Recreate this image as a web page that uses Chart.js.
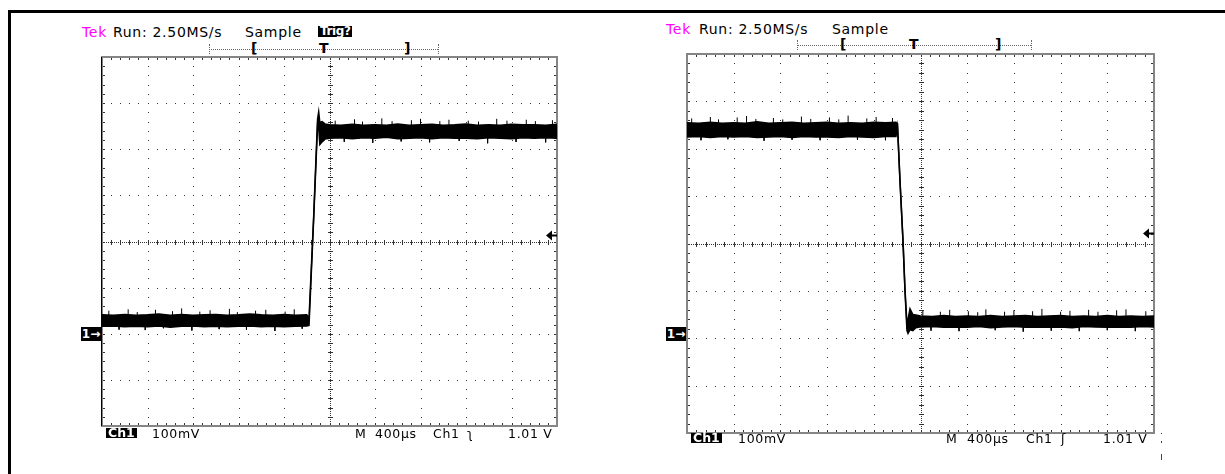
<!DOCTYPE html>
<html>
<head>
<meta charset="utf-8">
<script src="https://cdn.jsdelivr.net/npm/chart.js"></script>
<style>
  html, body { margin: 0; padding: 0; background: #fff; }
  body { width: 1225px; height: 474px; position: relative; overflow: hidden; }
  .frame { position: absolute; left: 8px; top: 10px; width: 1300px; height: 600px;
           border-left: 3px solid #000; border-top: 3px solid #000; }
  canvas { position: absolute; }
  .t { position: absolute; font-family: "DejaVu Sans", sans-serif; white-space: nowrap; line-height: 1; color: #000; }
  .hdr { font-size: 14px; letter-spacing: 0.7px; }
  .ftr { font-size: 12.5px; letter-spacing: 0.7px; }
  .tek { color: #ff00ff; }
  .box { background: #000; color: #fff; font-weight: bold; }
  .bar { position: absolute; border-top: 1px dotted #666; height: 0; }
  .cap { position: absolute; border-left: 1px dotted #666; width: 0; height: 10px; }
  .mark { position: absolute; font-family: "DejaVu Sans", sans-serif; font-weight: bold; font-size: 14px; line-height: 1; }
  .gnd { position: absolute; background: #000; color: #fff; font-family: "DejaVu Sans", sans-serif;
         font-weight: bold; font-size: 12px; line-height: 14px; height: 14px; width: 20px; text-align: center; }
  .speck { position: absolute; background: #444; width: 1px; }
</style>
</head>
<body>
<div class="frame"></div>

<!-- left scope -->
<div class="t hdr tek" style="left:82px; top:25px;">Tek</div>
<div class="t hdr" style="left:113px; top:25px;">Run: 2.50MS/s</div>
<div class="t hdr" style="left:245px; top:25px;">Sample</div>
<div class="t box" style="left:318px; top:26px; height:11px; font-size:12px; line-height:11px; padding:0 2px; letter-spacing:-0.4px;">Trig?</div>
<div class="bar" style="left:209px; top:49px; width:229px;"></div>
<div class="cap" style="left:209px; top:44px;"></div>
<div class="cap" style="left:438px; top:44px;"></div>
<div class="mark" style="left:251px; top:41px;">[</div>
<div class="mark" style="left:319px; top:41px;">T</div>
<div class="mark" style="left:404px; top:41px;">]</div>
<div class="gnd" style="left:81px; top:327px;">1→</div>
<canvas id="leftScope" width="475" height="389" style="left:92px; top:47px;"></canvas>
<div class="t ftr box" style="left:106px; top:428px; height:10px; line-height:10px; padding:0 2px; letter-spacing:0;">Ch1</div>
<div class="t ftr" style="left:152px; top:428px;">100mV</div>
<div class="t ftr" style="left:355px; top:428px;">M</div>
<div class="t ftr" style="left:375px; top:428px;">400µs</div>
<div class="t ftr" style="left:433px; top:428px;">Ch1</div>
<div class="t ftr" style="left:467px; top:428px;">ʅ</div>
<div class="t ftr" style="left:508px; top:428px;">1.01 V</div>

<!-- right scope -->
<div class="t hdr tek" style="left:666px; top:22px;">Tek</div>
<div class="t hdr" style="left:699px; top:22px;">Run: 2.50MS/s</div>
<div class="t hdr" style="left:832px; top:22px;">Sample</div>
<div class="bar" style="left:797px; top:45px; width:234px;"></div>
<div class="cap" style="left:797px; top:40px;"></div>
<div class="cap" style="left:1031px; top:40px;"></div>
<div class="mark" style="left:840px; top:37px;">[</div>
<div class="mark" style="left:909px; top:37px;">T</div>
<div class="mark" style="left:995px; top:37px;">]</div>
<div class="gnd" style="left:666px; top:327px;">1→</div>
<canvas id="rightScope" width="487" height="399" style="left:677px; top:44px;"></canvas>
<div class="t ftr box" style="left:691px; top:433px; height:10px; line-height:10px; padding:0 2px; letter-spacing:0;">Ch1</div>
<div class="t ftr" style="left:738px; top:433px;">100mV</div>
<div class="t ftr" style="left:946px; top:433px;">M</div>
<div class="t ftr" style="left:967px; top:433px;">400µs</div>
<div class="t ftr" style="left:1026px; top:433px;">Ch1</div>
<div class="t ftr" style="left:1061px; top:433px;">ʃ</div>
<div class="t ftr" style="left:1103px; top:433px;">1.01 V</div>
<div class="speck" style="left:1161px; top:433px; height:1px;"></div>
<div class="speck" style="left:1161px; top:441px; height:2px;"></div>
<div class="speck" style="left:1161px; top:454px; height:6px;"></div>

<script>
// Graticule: 10 x 400us, 8 x 100mV (0 mV = channel 1 ground marker)
var timeDivs = [0, 400, 800, 1200, 1600, 2000, 2400, 2800, 3200, 3600, 4000];
var voltDivs = [-200, -100, 0, 100, 200, 300, 400, 500, 600];

// Left capture: rising step, band envelope in mV
var leftTime = [0, 100, 200, 300, 400, 500, 600, 700, 800, 900, 1000, 1100, 1200, 1300, 1400, 1500, 1600, 1700, 1800,
                1820, 1860, 1895, 1905, 1915, 1935, 1960,
                2000, 2100, 2200, 2300, 2400, 2500, 2600, 2700, 2800, 2900, 3000, 3100, 3200, 3300, 3400, 3500, 3600, 3700, 3800, 3900, 4000];
var leftUpper = [41, 40, 42, 40, 41, 43, 40, 42, 40, 41, 42, 40, 41, 43, 41, 40, 42, 40, 41,
                 34, 250, 465, 481, 458, 460, 455,
                 453, 452, 454, 452, 453, 452, 455, 452, 453, 454, 452, 453, 455, 452, 453, 452, 454, 453, 453, 452, 454];
var leftLower = [16, 17, 15, 16, 15, 17, 14, 16, 17, 15, 16, 15, 16, 17, 15, 16, 15, 16, 17,
                 18, 244, 452, 446, 410, 416, 422,
                 424, 425, 423, 425, 424, 426, 423, 424, 425, 423, 425, 424, 424, 423, 425, 424, 423, 425, 424, 425, 424];
var leftLowSpikeTime = [60, 150, 230, 310, 380, 470, 540, 620, 700, 790, 860, 950, 1030, 1120, 1190, 1270, 1350, 1440, 1520, 1610, 1690, 1760];
var leftLowSpikeTip = [50, 9, 53, 47, 8, 52, 12, 49, 55, 7, 48, 51, 10, 54, 47, 9, 50, 52, 6, 48, 53, 11];
var leftHighSpikeTime = [2050, 2130, 2220, 2290, 2380, 2460, 2550, 2630, 2720, 2800, 2880, 2970, 3050, 3140, 3220, 3310, 3390, 3470, 3560, 3640, 3730, 3810, 3900, 3960];
var leftHighSpikeTip = [462, 416, 465, 460, 414, 467, 461, 417, 463, 466, 415, 461, 464, 418, 462, 460, 413, 466, 462, 416, 464, 461, 415, 463];
var leftLevels = [28, 438];
var leftTrigger = 214;

// Right capture: falling step
var rightTime = [0, 100, 200, 300, 400, 500, 600, 700, 800, 900, 1000, 1100, 1200, 1300, 1400, 1500, 1600, 1700,
                 1790, 1803, 1824, 1850, 1867, 1884, 1893, 1910, 1935, 1960,
                 2000, 2100, 2200, 2300, 2400, 2500, 2600, 2700, 2800, 2900, 3000, 3100, 3200, 3300, 3400, 3500, 3600, 3700, 3800, 3900, 4000];
var rightUpper = [455, 454, 456, 454, 455, 454, 457, 454, 455, 456, 454, 455, 456, 454, 455, 454, 456, 455,
                  456, 452, 336, 208, 104, 30, 40, 62, 50, 49,
                  47, 46, 48, 46, 47, 46, 48, 46, 47, 48, 46, 47, 48, 46, 47, 46, 48, 46, 47, 46, 47];
var rightLower = [425, 426, 424, 426, 425, 426, 424, 425, 426, 424, 426, 425, 425, 424, 426, 425, 424, 426,
                  426, 446, 332, 204, 100, 16, 10, 18, 16, 22,
                  24, 25, 23, 24, 23, 25, 22, 24, 25, 23, 24, 23, 24, 22, 25, 24, 23, 24, 23, 25, 24];
var rightHighSpikeTime = [40, 120, 200, 270, 350, 430, 510, 590, 660, 740, 820, 900, 980, 1060, 1140, 1220, 1300, 1380, 1460, 1540, 1620, 1700, 1760];
var rightHighSpikeTip = [464, 418, 467, 462, 420, 466, 469, 463, 417, 465, 462, 419, 468, 463, 418, 466, 462, 470, 419, 464, 467, 418, 465];
var rightLowSpikeTime = [2020, 2090, 2170, 2250, 2330, 2410, 2490, 2560, 2640, 2720, 2800, 2880, 2960, 3040, 3120, 3200, 3280, 3360, 3440, 3520, 3600, 3680, 3760, 3840, 3930];
var rightLowSpikeTip = [58, 16, 56, 60, 15, 57, 55, 61, 17, 56, 59, 14, 57, 62, 16, 56, 58, 15, 60, 56, 17, 59, 61, 15, 57];
var rightLevels = [440, 35];
var rightTrigger = 222;

// dotted graticule, centre cross, edge ticks, frame, trigger arrow
var graticule = {
    id: 'graticule',
    beforeDatasetsDraw: function(chart, args, opts) {
        var ctx = chart.ctx, a = chart.chartArea;
        var sx = chart.scales.x, sy = chart.scales.y;
        var xs = timeDivs.map(function(v) { return sx.getPixelForValue(v); });
        var ys = voltDivs.map(function(v) { return sy.getPixelForValue(v); });
        var xm = [], ym = [], i, k;
        for (i = 0; i < xs.length - 1; i++) for (k = 0; k < 5; k++) xm.push(xs[i] + (xs[i + 1] - xs[i]) * k / 5);
        xm.push(xs[xs.length - 1]);
        for (i = 0; i < ys.length - 1; i++) for (k = 0; k < 5; k++) ym.push(ys[i] + (ys[i + 1] - ys[i]) * k / 5);
        ym.push(ys[ys.length - 1]);
        var R = Math.round;
        ctx.save();
        ctx.fillStyle = '#333';
        xs.slice(1, -1).forEach(function(px) { ym.forEach(function(py) { ctx.fillRect(R(px), R(py), 1, 1); }); });
        ys.slice(1, -1).forEach(function(py) { xm.forEach(function(px) { ctx.fillRect(R(px), R(py), 1, 1); }); });
        var cx = R(xs[5]), cy = R(ys[4]);
        for (var p = a.top; p < a.bottom; p += 2) ctx.fillRect(cx, R(p), 1, 1);
        for (p = a.left; p < a.right; p += 2) ctx.fillRect(R(p), cy, 1, 1);
        ym.forEach(function(py) { ctx.fillRect(cx - 2, R(py), 5, 1); });
        xm.forEach(function(px) { ctx.fillRect(R(px), cy - 2, 1, 5); });
        xm.forEach(function(px) {
            ctx.fillRect(R(px), R(a.top), 1, 3);
            ctx.fillRect(R(px), R(a.bottom) - 3, 1, 3);
        });
        ym.forEach(function(py) {
            ctx.fillRect(R(a.left), R(py), 3, 1);
            ctx.fillRect(R(a.right) - 3, R(py), 3, 1);
        });
        ctx.strokeStyle = '#858585';
        ctx.lineWidth = 2;
        ctx.strokeRect(a.left, a.top, a.right - a.left, a.bottom - a.top);
        if (opts.blackLeft) {
            ctx.fillStyle = '#000';
            ctx.fillRect(R(a.left) - 1, R(a.top), 1, a.bottom - a.top);
        }
        ctx.restore();
    },
    afterDatasetsDraw: function(chart, args, opts) {
        var ctx = chart.ctx, a = chart.chartArea;
        var ty = Math.round(chart.scales.y.getPixelForValue(opts.trigger)) + 0.5;
        ctx.save();
        ctx.fillStyle = '#000';
        ctx.beginPath();
        ctx.moveTo(a.right - 11, ty);
        ctx.lineTo(a.right - 5, ty - 5);
        ctx.lineTo(a.right - 5, ty + 5);
        ctx.closePath();
        ctx.fill();
        ctx.fillRect(a.right - 6, ty - 1, 6, 2);
        ctx.restore();
    }
};

function toPoints(time, values) {
    return time.map(function(t, i) { return {x: t, y: values[i]}; });
}

// each spike is a short vertical stroke from the band level to its tip
function spikePoints(time, tips, level) {
    var pts = [];
    time.forEach(function(t, i) {
        pts.push({x: t, y: level}, {x: t, y: tips[i]}, {x: t, y: null});
    });
    return pts;
}

function makeScope(id, time, upper, lower, spikes, trigger, blackLeft) {
    var ctx = document.getElementById(id).getContext('2d');
    var datasets = [{
        data: toPoints(time, upper),
        borderColor: '#000',
        backgroundColor: '#000',
        borderWidth: 1.5,
        pointRadius: 0,
        tension: 0,
        fill: '+1'
    }, {
        data: toPoints(time, lower),
        borderColor: '#000',
        borderWidth: 1.5,
        pointRadius: 0,
        tension: 0,
        fill: false
    }];
    spikes.forEach(function(s) {
        datasets.push({
            data: spikePoints(s[0], s[1], s[2]),
            borderColor: '#000',
            borderWidth: 1,
            pointRadius: 0,
            spanGaps: false,
            fill: false
        });
    });
    return new Chart(ctx, {
        type: 'line',
        data: { datasets: datasets },
        options: {
            responsive: false,
            animation: false,
            devicePixelRatio: 1,
            layout: { padding: { left: 10, right: 10, top: 10, bottom: 10 } },
            plugins: {
                legend: { display: false },
                tooltip: { enabled: false },
                graticule: { trigger: trigger, blackLeft: blackLeft }
            },
            scales: {
                x: { type: 'linear', min: 0, max: 4000, display: false },
                y: { type: 'linear', min: -200, max: 600, display: false }
            }
        },
        plugins: [graticule]
    });
}

window.onload = function() {
    makeScope('leftScope', leftTime, leftUpper, leftLower,
        [[leftLowSpikeTime, leftLowSpikeTip, leftLevels[0]], [leftHighSpikeTime, leftHighSpikeTip, leftLevels[1]]],
        leftTrigger, true);
    makeScope('rightScope', rightTime, rightUpper, rightLower,
        [[rightHighSpikeTime, rightHighSpikeTip, rightLevels[0]], [rightLowSpikeTime, rightLowSpikeTip, rightLevels[1]]],
        rightTrigger, false);
};
</script>
</body>
</html>
